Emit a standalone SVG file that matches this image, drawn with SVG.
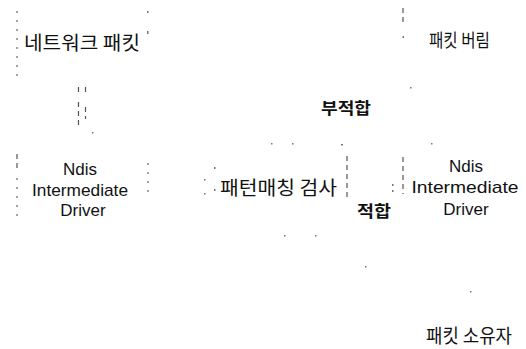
<svg xmlns="http://www.w3.org/2000/svg" width="526" height="349" viewBox="0 0 526 349">
<style>
text{fill:#111;font-family:"Liberation Sans","Noto Sans CJK KR",sans-serif}
.ko{font-family:"Noto Sans CJK KR","Noto Sans",sans-serif;font-size:19px}
.en{font-size:17px;text-anchor:middle}
.b{font-weight:bold;font-size:16px}
.edge{stroke:#666;stroke-width:1.2;fill:none;stroke-dasharray:2 7}
.ed2{stroke:#555;stroke-width:1.2;fill:none;stroke-dasharray:5 4}
.dot{fill:#777}
</style>
<rect width="526" height="349" fill="#fff"/>
<g id="node-network-packet">
<path class="edge" d="M17 11V76"/>
<rect class="dot" x="147" y="11" width="1.5" height="2"/>
<rect class="dot" x="147" y="31" width="1.5" height="3"/>
<text class="ko" x="24" y="50" textLength="116" lengthAdjust="spacingAndGlyphs">네트워크 패킷</text>
</g>
<g id="node-packet-drop">
<path class="ed2" d="M403 8V23"/>
<rect class="dot" x="402.5" y="36" width="1.5" height="2"/>
<text class="ko" x="429" y="47" style="font-size:18px" textLength="61" lengthAdjust="spacingAndGlyphs">패킷 버림</text>
</g>
<g id="node-ndis-left">
<path class="ed2" d="M17 154V172"/>
<path class="edge" d="M17 178V218"/>
<path class="edge" d="M148 163V197"/>
<text class="en" x="80" y="175">Ndis</text>
<text class="en" x="80" y="196" textLength="96" lengthAdjust="spacingAndGlyphs">Intermediate</text>
<text class="en" x="83" y="216">Driver</text>
</g>
<g id="node-pattern-check">
<rect class="dot" x="271" y="143" width="1.5" height="1.5"/>
<rect class="dot" x="292" y="143" width="1.5" height="1.5"/>
<rect class="dot" x="341" y="144" width="2" height="1.5"/>
<rect class="dot" x="214" y="167" width="1.5" height="2"/>
<rect class="dot" x="204" y="179" width="1.5" height="1.5"/>
<rect class="dot" x="214" y="189" width="1.5" height="2"/>
<rect class="dot" x="204" y="193" width="1.5" height="1.5"/>
<path class="ed2" d="M347 156V197"/>
<rect class="dot" x="284" y="235" width="1.5" height="1.5"/>
<rect class="dot" x="315" y="235" width="1.5" height="1.5"/>
<text class="ko" x="220" y="195" textLength="117" lengthAdjust="spacingAndGlyphs">패턴매칭 검사</text>
</g>
<g id="node-ndis-right">
<rect class="dot" x="431" y="143" width="1.5" height="1.5"/>
<path class="ed2" d="M403 157V194"/>
<text class="en" x="466" y="172">Ndis</text>
<text class="en" x="465" y="193" textLength="107" lengthAdjust="spacingAndGlyphs">Intermediate</text>
<text class="en" x="466" y="215">Driver</text>
</g>
<g id="node-packet-owner">
<text class="ko" x="426" y="343" textLength="86" lengthAdjust="spacingAndGlyphs">패킷 소유자</text>
</g>
<g id="connectors">
<path class="ed2" d="M78.5 87V96M78.5 102V126"/>
<path class="ed2" d="M85.5 87V96M85.5 107V119"/>
<rect class="dot" x="92" y="132" width="1.5" height="1.5"/>
<rect class="dot" x="410" y="87" width="1.5" height="1.5"/>
<rect class="dot" x="392" y="184" width="1.5" height="2"/>
<rect class="dot" x="392" y="190" width="1.5" height="2"/>
<rect class="dot" x="365" y="266" width="1.5" height="1.5"/>
<rect class="dot" x="470" y="291" width="1.5" height="1.5"/>
<text class="ko b" x="321" y="114" textLength="50" lengthAdjust="spacingAndGlyphs">부적합</text>
<text class="ko b" x="357" y="217" textLength="34" lengthAdjust="spacingAndGlyphs">적합</text>
</g>
</svg>
